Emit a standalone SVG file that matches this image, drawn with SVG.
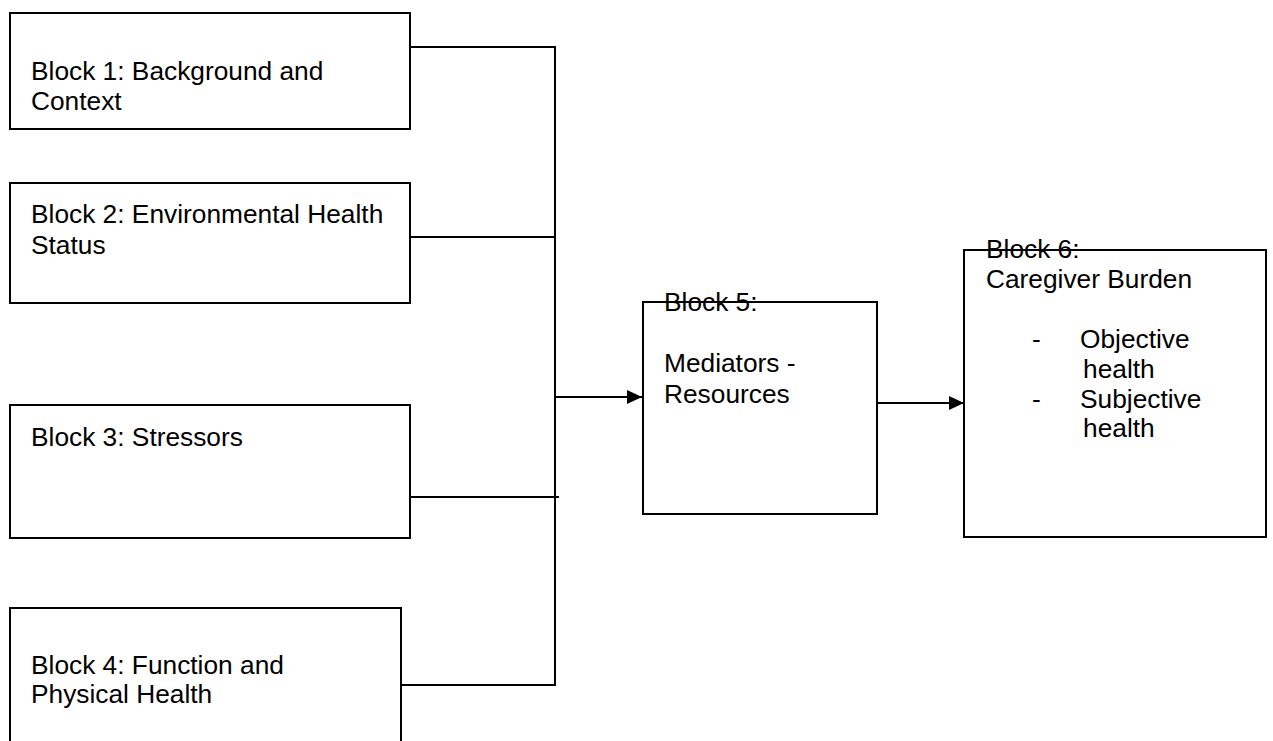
<svg xmlns="http://www.w3.org/2000/svg" width="1273" height="741" viewBox="0 0 1273 741">
<style>
.box{fill:none;stroke:#000;stroke-width:2}
.ln{fill:none;stroke:#000;stroke-width:2}
text{font-family:"Liberation Sans",Arial,sans-serif;font-size:26.3px;fill:#000}
</style>
<defs>
<marker id="ah" markerUnits="userSpaceOnUse" markerWidth="16" markerHeight="16" refX="15" refY="7" orient="auto">
<path d="M0,0 L15,7 L0,14 z" fill="#000"/>
</marker>
</defs>
<rect width="1273" height="741" fill="#fff"/>
<g id="connectors">
<polyline class="ln" points="410,47 555,47 555,685 401,685"/>
<line class="ln" x1="410" y1="237" x2="555" y2="237"/>
<line class="ln" x1="410" y1="497" x2="559" y2="497"/>
<line class="ln" x1="555" y1="397" x2="642" y2="397" marker-end="url(#ah)"/>
<line class="ln" x1="877" y1="403" x2="964" y2="403" marker-end="url(#ah)"/>
</g>
<g id="block1">
<rect class="box" x="10" y="13" width="400" height="116"/>
<text x="31" y="80">Block 1: Background and</text>
<text x="31" y="110">Context</text>
</g>
<g id="block2">
<rect class="box" x="10" y="183" width="400" height="120"/>
<text x="31" y="223">Block 2: Environmental Health</text>
<text x="31" y="254">Status</text>
</g>
<g id="block3">
<rect class="box" x="10" y="405" width="400" height="133"/>
<text x="31" y="446">Block 3: Stressors</text>
</g>
<g id="block4">
<rect class="box" x="10" y="608" width="391" height="160"/>
<text x="31" y="674">Block 4: Function and</text>
<text x="31" y="703">Physical Health</text>
</g>
<g id="block5">
<rect class="box" x="643" y="302" width="234" height="212"/>
<text x="664" y="311">Block 5:</text>
<text x="664" y="372">Mediators -</text>
<text x="664" y="403">Resources</text>
</g>
<g id="block6">
<rect class="box" x="964" y="250" width="302" height="287"/>
<text x="986" y="258">Block 6:</text>
<text x="986" y="288">Caregiver Burden</text>
<text x="1032" y="348">-</text>
<text x="1080" y="348">Objective</text>
<text x="1083" y="378">health</text>
<text x="1032" y="408">-</text>
<text x="1080" y="408">Subjective</text>
<text x="1083" y="437">health</text>
</g>
</svg>
